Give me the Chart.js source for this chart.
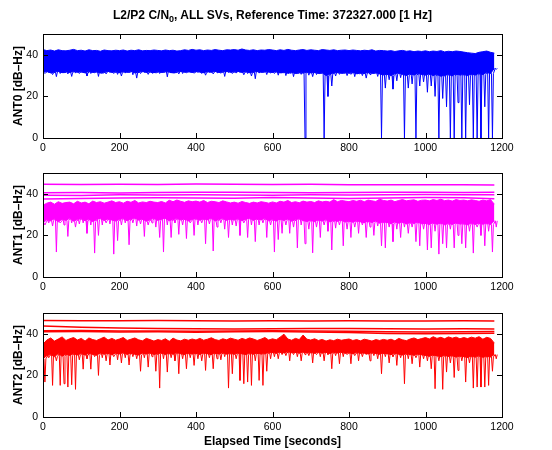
<!DOCTYPE html>
<html>
<head>
<meta charset="utf-8">
<script src="https://cdn.jsdelivr.net/npm/chart.js@4.4.1/dist/chart.umd.min.js"></script>
<style>
  body { margin: 0; background: #fff; }
  #wrap { position: relative; width: 552px; height: 450px; }
  canvas { position: absolute; left: 0; top: 0; }
  .lbl { position: absolute; font-family: "Liberation Sans", Arial, Helvetica, sans-serif; font-weight: bold; color: #000; white-space: nowrap; text-align: center; }
  #title { left: 0; width: 545px; top: 8px; font-size: 12px; line-height: 14px; }
  #title sub { font-size: 9px; line-height: 0; }
  #xlabel { left: 0; width: 545px; top: 434px; font-size: 12px; line-height: 14px; }
</style>
</head>
<body>
<div id="wrap">
  <canvas id="ant0" width="552" height="450"></canvas>
  <canvas id="ant1" width="552" height="450"></canvas>
  <canvas id="ant2" width="552" height="450"></canvas>
  <div class="lbl" id="title">L2/P2 C/N<sub>0</sub>, ALL SVs, Reference Time: 372327.000 [1 Hz]</div>
  <div class="lbl" id="xlabel">Elapsed Time [seconds]</div>
</div>
<script>
// Axis ticks
const xTicks = [0, 200, 400, 600, 800, 1000, 1200];
const yTicks = [0, 20, 40];

// Noisy bands are kept as 10 s bins: top edge (hi), lower edge of the dense part (core)
// and the deepest dip inside the bin (lo)
const STEP = 10;

// ANT0 - all SVs overlap in one band
const ant0Hi = [
  42.5, 42, 42.3, 41.8, 42.4, 42, 41.9, 42.2, 42.6, 42,
  42.2, 41.8, 42.4, 42, 42.1, 41.7, 42.3, 42, 41.9, 42.2,
  42, 42.3, 41.8, 42.2, 42, 42.4, 41.9, 42.1, 42, 42.3,
  42.1, 41.9, 42.3, 42, 42.2, 41.8, 42, 42.4, 42.1, 42.6,
  42.2, 42.4, 42, 42.3, 42.1, 42.5, 42.2, 42, 42.4, 42.3,
  42.5, 42.2, 42.8, 42.3, 42.1, 42.4, 42, 42.3, 42.2, 42.5,
  42.3, 42, 42.4, 42.1, 42.6, 42.2, 42, 42.3, 42.5, 42.1,
  42.4, 42.2, 42, 42.5, 42.3, 42.1, 42.4, 42, 42.2, 42.3,
  42, 42.3, 42.1, 41.9, 42.2, 42, 42.4, 41.8, 42.1, 42,
  41.8, 42, 41.6, 41.9, 42.1, 41.7, 41.9, 41.5, 41.8, 41.6,
  41.9, 41.5, 41.8, 41.6, 42, 41.4, 41.7, 41.5, 41.8, 41.6,
  41.3, 41, 40.8, 40.6, 41.2, 41.5, 41.8, 41.2, 40.8
];
const ant0Core = [
  31.5, 32, 31.3, 31.7, 32.1, 31.4, 31.9, 31.5, 32, 31.6,
  31.8, 31.3, 32, 31.5, 31.9, 31.2, 31.7, 32.1, 31.5, 31.8,
  31.4, 31.9, 31.6, 32.1, 31.3, 31.7, 32, 31.5, 31.8, 31.4,
  31.9, 31.5, 32, 31.7, 31.3, 31.8, 32.1, 31.6, 31.9, 31.5,
  32, 31.7, 31.4, 31.9, 31.6, 32.1, 31.5, 31.8, 32, 31.6,
  31.8, 32.1, 31.5, 31.9, 31.4, 31.7, 32, 31.6, 31.9, 31.7,
  31.5, 31.9, 31.3, 31.7, 31.1, 31.6, 31, 31.5, 31.2, 31.7,
  31.3, 31.6, 31, 31.4, 30, 30.7, 31.3, 31.5, 31.1, 31.4,
  31.2, 31.5, 30.9, 31.3, 31, 31.5, 31.1, 31.4, 30.8, 30.3,
  30.7, 30, 30.9, 31.3, 30.5, 30.1, 30.8, 30.3, 31, 30.5,
  30.3, 30.8, 30, 30.5, 29.7, 30.1, 30.5, 29.9, 30.7, 30.3,
  30.5, 30, 30.7, 30.3, 31, 30.5, 31.5, 31, 33.5
];
const ant0Lo = [
  31, 31.5, 30.5, 29.5, 31, 31.5, 30.8, 29.6, 31.2, 31,
  31.5, 29.8, 31, 31.4, 29.6, 31.2, 30.8, 31.5, 31, 30.6,
  29.8, 31.2, 31.5, 30.4, 28.8, 31, 31.6, 30.6, 31.2, 31.4,
  31, 31.5, 29.4, 31.2, 31.6, 30.8, 31, 31.4, 31.8, 31.2,
  31.5, 31, 30.2, 31.6, 30.8, 31.4, 31.2, 29.6, 31.5, 31,
  31.2, 31.6, 30.4, 31, 29.8, 28.5, 31.2, 31.6, 30.5, 31.3,
  31, 30.2, 31.5, 30, 31.4, 29.5, 31, 30.6, 0, 30.2,
  29.5, 30.5, 31, 0, 20, 25, 29.8, 30.6, 31.2, 30,
  30.6, 29.5, 31, 30, 28.8, 30.5, 31, 29.6, 0, 24,
  28, 23.5, 27.5, 29, 0, 24, 26, 0, 25, 27,
  22, 25, 20, 0, 19, 15, 0, 0, 17, 0,
  0, 16, 0, 0, 0, 15, 0, 0, 33
];

// ANT1
const ant1Hi = [
  34.5, 35.5, 36, 35, 36.2, 35.4, 35.8, 36, 35.2, 36.4,
  35.6, 36, 35.2, 36.5, 35.8, 36.2, 35.5, 36, 36.6, 35.8,
  36.2, 35.5, 36.4, 35.9, 36.8, 35.6, 36.1, 35.8, 36.4, 36,
  35.8, 36.3, 35.6, 36.9, 36.2, 37, 36.4, 35.9, 36.6, 36.2,
  36.5, 36, 36.8, 35.8, 36.4, 36.2, 35.8, 36.6, 36.1, 35.6,
  36, 35.5, 36.3, 35.8, 35.4, 36, 35.6, 36.2, 35.9, 35.5,
  36.1, 35.6, 36.4, 36, 36.8, 35.8, 36.2, 35.7, 36.5, 36,
  36.3, 35.8, 36.6, 36.1, 36.4, 36, 37.2, 36.2, 36.8, 36.5,
  36.2, 36.8, 36.4, 36.9, 36.2, 37, 36.6, 36.3, 37.4, 36.8,
  36.5, 37, 36.2, 36.8, 37.2, 36.6, 36.9, 37.1, 36.4, 36.9,
  37, 36.6, 37.2, 36.8, 37.4, 36.7, 37, 36.5, 37.2, 36.8,
  37, 36.6, 37.1, 36.8, 36.4, 37, 36.6, 37.2, 35
];
const ant1Core = [
  26, 27.5, 27, 28, 26.5, 27.8, 27.2, 28.2, 26.8, 27.6,
  28, 27, 27.8, 26.6, 27.5, 28.3, 27.1, 27.9, 27.4, 26.9,
  27.6, 28.1, 27, 27.8, 28.4, 27.3, 27.9, 26.8, 27.5, 28.2,
  27.2, 27.8, 28.3, 27, 27.6, 28.1, 27.4, 27.9, 26.9, 27.7,
  28, 27.3, 27.9, 27.5, 28.2, 26.9, 27.6, 28.1, 27.2, 27.8,
  27.4, 28, 27.1, 27.7, 28.3, 27.2, 27.9, 27.5, 28.1, 27,
  27.6, 26.9, 27.8, 27.2, 27.9, 26.8, 27.5, 28, 27.1, 26.7,
  27.2, 26.6, 27.4, 26.9, 27.6, 26.5, 27.1, 26.8, 27.3, 26.4,
  26.9, 26.3, 27, 26.5, 26.1, 26.8, 26.2, 26.9, 25.8, 26.4,
  26.2, 25.6, 26.5, 25.9, 26.4, 25.5, 26.1, 25.8, 26.3, 25.6,
  25.8, 25.2, 26, 25.4, 25.9, 25.1, 25.7, 25.3, 26, 25.5,
  25.6, 25.1, 25.8, 25.3, 25.9, 25.4, 25.8, 25.2, 27
];
const ant1Lo = [
  25, 26, 24.5, 12, 26, 25, 19.5, 26, 24, 25.5,
  26, 21, 25, 11.5, 20, 25, 26, 25.5, 11, 17.5,
  25, 26, 15.5, 26, 24.5, 25.5, 19.5, 25, 26, 24,
  19, 12, 25, 19, 26, 20.5, 25, 18.5, 26, 20,
  25, 26, 16, 25.5, 12.5, 24, 26, 23, 19, 25,
  24.5, 20, 26, 19, 25, 17, 25, 26, 19, 25,
  12, 18, 21, 25, 21, 24, 14, 25, 16, 23,
  11.6, 24, 19, 25, 22, 13, 23.5, 25, 15, 23,
  19, 24, 21, 25, 19, 24, 20, 24.5, 15, 14,
  24, 17, 23, 19, 24, 21, 24, 17, 15, 23,
  13, 14, 22, 11, 16, 14, 23, 14, 20, 16,
  14, 22, 11.5, 24, 20, 15, 22, 12, 24
];

// ANT2
const ant2Hi = [
  35, 37, 38, 36.5, 37.5, 38.5, 36.8, 37.6, 38.2, 37,
  37.8, 36.5, 38, 37.2, 36.8, 37.6, 38.4, 37, 37.8, 36.9,
  37.5, 38.2, 36.8, 37.4, 38, 37.1, 36.6, 37.8, 37.2, 36.5,
  37.2, 36.8, 37.6, 36.4, 37.9, 37, 36.6, 37.4, 36.9, 37.5,
  37, 37.8, 36.9, 37.4, 38.1, 37.2, 36.8, 37.6, 37.1, 37.9,
  37.4, 36.9, 37.8, 37.2, 38, 37.5, 36.8, 37.4, 38.2, 37,
  37.6, 37.1, 38.4, 39.8, 37.5, 36.9, 37.8, 37.2, 39.4, 37.4,
  37, 37.6, 36.8, 37.3, 36.5, 37.1, 36.7, 37.4, 36.9, 37.2,
  37.5, 36.8, 37.2, 36.6, 37.4, 37, 36.5, 37.2, 36.8, 37.3,
  36.9, 37.4, 36.6, 37.8, 37.1, 36.7, 37.5, 38, 37.2, 37.7,
  38.2, 37.5, 38.6, 37.8, 38.3, 37.6, 38.5, 37.9, 38.4, 37.6,
  38.2, 37.7, 38.4, 37.9, 38.6, 37.4, 38.3, 37.8, 35.5
];
const ant2Core = [
  28, 29.5, 30, 29, 30.5, 29.2, 30.2, 29.6, 30.4, 29.8,
  30.5, 29.8, 30.6, 30.1, 29.7, 30.8, 30.2, 30.6, 29.9, 30.7,
  30.3, 30.9, 30.1, 30.6, 30.2, 29.8, 30.7, 30.3, 30.8, 30.1,
  30.4, 30.8, 30, 30.6, 30.2, 30.9, 30.4, 30, 30.7, 30.3,
  30.6, 30.1, 30.8, 30.4, 30, 30.7, 30.3, 30.9, 30.2, 30.5,
  30.2, 30.8, 30.4, 30, 30.6, 30.2, 30.7, 30.3, 30.5, 30.9,
  31, 30.6, 31.2, 30.8, 31.4, 30.9, 31.1, 30.7, 31.3, 30.8,
  31, 30.6, 31.2, 30.7, 31.1, 30.5, 31, 30.8, 31.2, 30.6,
  30.9, 30.4, 31, 30.6, 30.8, 30.3, 30.9, 30.5, 30.2, 30.7,
  30.4, 30, 30.6, 30.2, 29.8, 30.4, 30, 29.7, 30.3, 29.9,
  29.6, 29.2, 29.8, 29.4, 29, 29.6, 29.1, 29.5, 28.8, 29.3,
  29, 28.6, 29.2, 28.8, 29.4, 28.7, 29.1, 28.9, 30
];
const ant2Lo = [
  16.8, 28.5, 15.2, 27, 15.2, 16, 14.4, 15.5, 13.3, 27.5,
  23, 28, 23, 29, 20, 28.5, 27, 25, 29, 27.5,
  26, 28.5, 25, 29, 28, 22, 28.5, 24, 29, 22,
  13.9, 28, 21.6, 28.5, 27, 20.8, 28, 23.2, 28.5, 24.8,
  28, 27, 22.4, 28.5, 23.2, 28, 27.5, 29, 13.9, 20.8,
  28, 17.6, 16, 16.8, 15.2, 27, 17.6, 15.2, 22, 28,
  29, 28, 30, 29.5, 27, 30, 29, 27, 30, 29.5,
  26, 30, 29, 27, 30, 23.2, 29.5, 25.6, 29, 30,
  25.6, 29.5, 27, 29, 30, 27, 29.5, 28, 20.8, 29,
  26, 29, 24.8, 28.5, 16, 28, 25.6, 28.5, 24, 28,
  27, 23.2, 13.6, 27, 13.3, 21.6, 26, 19, 22.4, 27,
  16.8, 26, 13.9, 14.4, 14.4, 14.4, 15.2, 22, 28
];

// Steady, high C/N0 satellites (sampled every 100 s)
const slowT = [0, 100, 200, 300, 400, 500, 600, 700, 800, 900, 1000, 1100, 1180];
const ant1SvA = [44.6, 44.5, 44.6, 44.5, 44.7, 44.6, 44.5, 44.6, 44.4, 44.4, 44.3, 44.3, 44.2];
const ant1SvB = [40.5, 40.6, 40.4, 40.6, 40.7, 40.8, 40.6, 40.5, 40.6, 40.8, 40.7, 40.6, 40.7];
const ant1SvC = [39.3, 39.2, 39.5, 39.4, 39.6, 39.4, 39.3, 39.5, 39.4, 39.6, 39.7, 39.5, 39.6];
const ant1SvD = [37.5, 37.8, 38, 38.1, 38, 37.9, 38.2, 38, 37.8, 38, 38.2, 38.1, 37.6];
const ant2SvA = [46.4, 46.3, 46.3, 46.4, 46.3, 46.2, 46.3, 46.2, 46.3, 46.2, 46.2, 46.3, 46.2];
const ant2SvB = [43.8, 43.2, 42.8, 42.5, 42.4, 42.3, 42.4, 42.5, 42.6, 42.4, 42.3, 42.4, 42.3];
const ant2SvC = [41.5, 41.6, 41.4, 41.3, 41.2, 41.4, 41.5, 41.3, 41.2, 41, 40.9, 41, 41.1];
const ant2SvD = [41, 41.1, 40.9, 41, 40.8, 41, 41.1, 40.9, 40.6, 40.2, 40, 40.1, 40.3];

Chart.defaults.font.family = '"Liberation Sans", Arial, Helvetica, sans-serif';
Chart.defaults.color = '#000';

function binPoints(vals) {
    return vals.map((v, i) => ({ x: i * STEP, y: v }));
}

// dip from the core edge down to lo in the middle of each bin
function dips(core, lo) {
    const pts = [];
    core.forEach((c, i) => {
        const t = i * STEP;
        pts.push({ x: t + 2.5, y: c });
        pts.push({ x: t + 5, y: lo[i] });
        pts.push({ x: t + 7.5, y: c });
    });
    return pts;
}

function steady(vals) {
    return vals.map((v, i) => ({ x: slowT[i], y: v }));
}

// MATLAB style box with inward ticks on all four sides
const boxPlugin = {
    id: 'matlabBox',
    afterDatasetsDraw(chart) {
        const { ctx, chartArea: a, scales } = chart;
        ctx.save();
        ctx.strokeStyle = '#000';
        ctx.lineWidth = 1;
        ctx.beginPath();
        xTicks.forEach(v => {
            const px = Math.round(scales.x.getPixelForValue(v)) + 0.5;
            ctx.moveTo(px, a.bottom); ctx.lineTo(px, a.bottom - 5);
            ctx.moveTo(px, a.top); ctx.lineTo(px, a.top + 5);
        });
        yTicks.forEach(v => {
            const py = Math.round(scales.y.getPixelForValue(v)) + 0.5;
            ctx.moveTo(a.left, py); ctx.lineTo(a.left + 5, py);
            ctx.moveTo(a.right, py); ctx.lineTo(a.right - 5, py);
        });
        ctx.stroke();
        ctx.strokeRect(Math.round(a.left) + 0.5, Math.round(a.top) + 0.5,
            Math.round(a.right - a.left), Math.round(a.bottom - a.top));
        ctx.restore();
    }
};

function makePanel(id, top, bottom, yTitle, color, hi, core, lo, svs) {
    const datasets = svs.map(s => ({
        data: steady(s), borderColor: color, borderWidth: 1.5, fill: false
    }));
    datasets.push({ data: binPoints(hi), borderColor: color, borderWidth: 1, backgroundColor: color, fill: '+1' });
    datasets.push({ data: binPoints(core), borderColor: color, borderWidth: 1, fill: false });
    datasets.push({ data: dips(core, lo), borderColor: color, borderWidth: 1, fill: false });

    new Chart(document.getElementById(id), {
        type: 'line',
        data: { datasets: datasets },
        plugins: [boxPlugin],
        options: {
            responsive: false,
            animation: false,
            events: [],
            layout: { padding: { top: top, bottom: 450 - bottom - 20, left: 0, right: 50 } },
            elements: { point: { radius: 0 }, line: { tension: 0 } },
            plugins: { legend: { display: false }, tooltip: { enabled: false } },
            scales: {
                x: {
                    type: 'linear', min: 0, max: 1200,
                    grid: { display: false, drawTicks: false },
                    border: { display: false },
                    afterBuildTicks: s => { s.ticks = xTicks.map(v => ({ value: v })); },
                    afterFit: s => { s.height = 20; s.paddingLeft = 0; s.paddingRight = 0; },
                    ticks: { font: { size: 10.5 }, padding: 4, maxRotation: 0, callback: v => String(v) }
                },
                y: {
                    min: 0, max: 50,
                    grid: { display: false, drawTicks: false },
                    border: { display: false },
                    afterBuildTicks: s => { s.ticks = yTicks.map(v => ({ value: v })); },
                    afterFit: s => { s.width = 43; s.paddingTop = 0; s.paddingBottom = 0; },
                    ticks: { font: { size: 10.5 }, padding: 5 },
                    title: { display: true, text: yTitle, font: { size: 12, weight: 'bold' }, padding: { top: 11, bottom: 0 } }
                }
            }
        }
    });
}

makePanel('ant0', 34, 138, 'ANT0 [dB\u2013Hz]', '#0000ff', ant0Hi, ant0Core, ant0Lo, []);
makePanel('ant1', 173, 277, 'ANT1 [dB\u2013Hz]', '#ff00ff', ant1Hi, ant1Core, ant1Lo, [ant1SvA, ant1SvB, ant1SvC, ant1SvD]);
makePanel('ant2', 313, 417, 'ANT2 [dB\u2013Hz]', '#ff0000', ant2Hi, ant2Core, ant2Lo, [ant2SvA, ant2SvB, ant2SvC, ant2SvD]);
</script>
</body>
</html>
